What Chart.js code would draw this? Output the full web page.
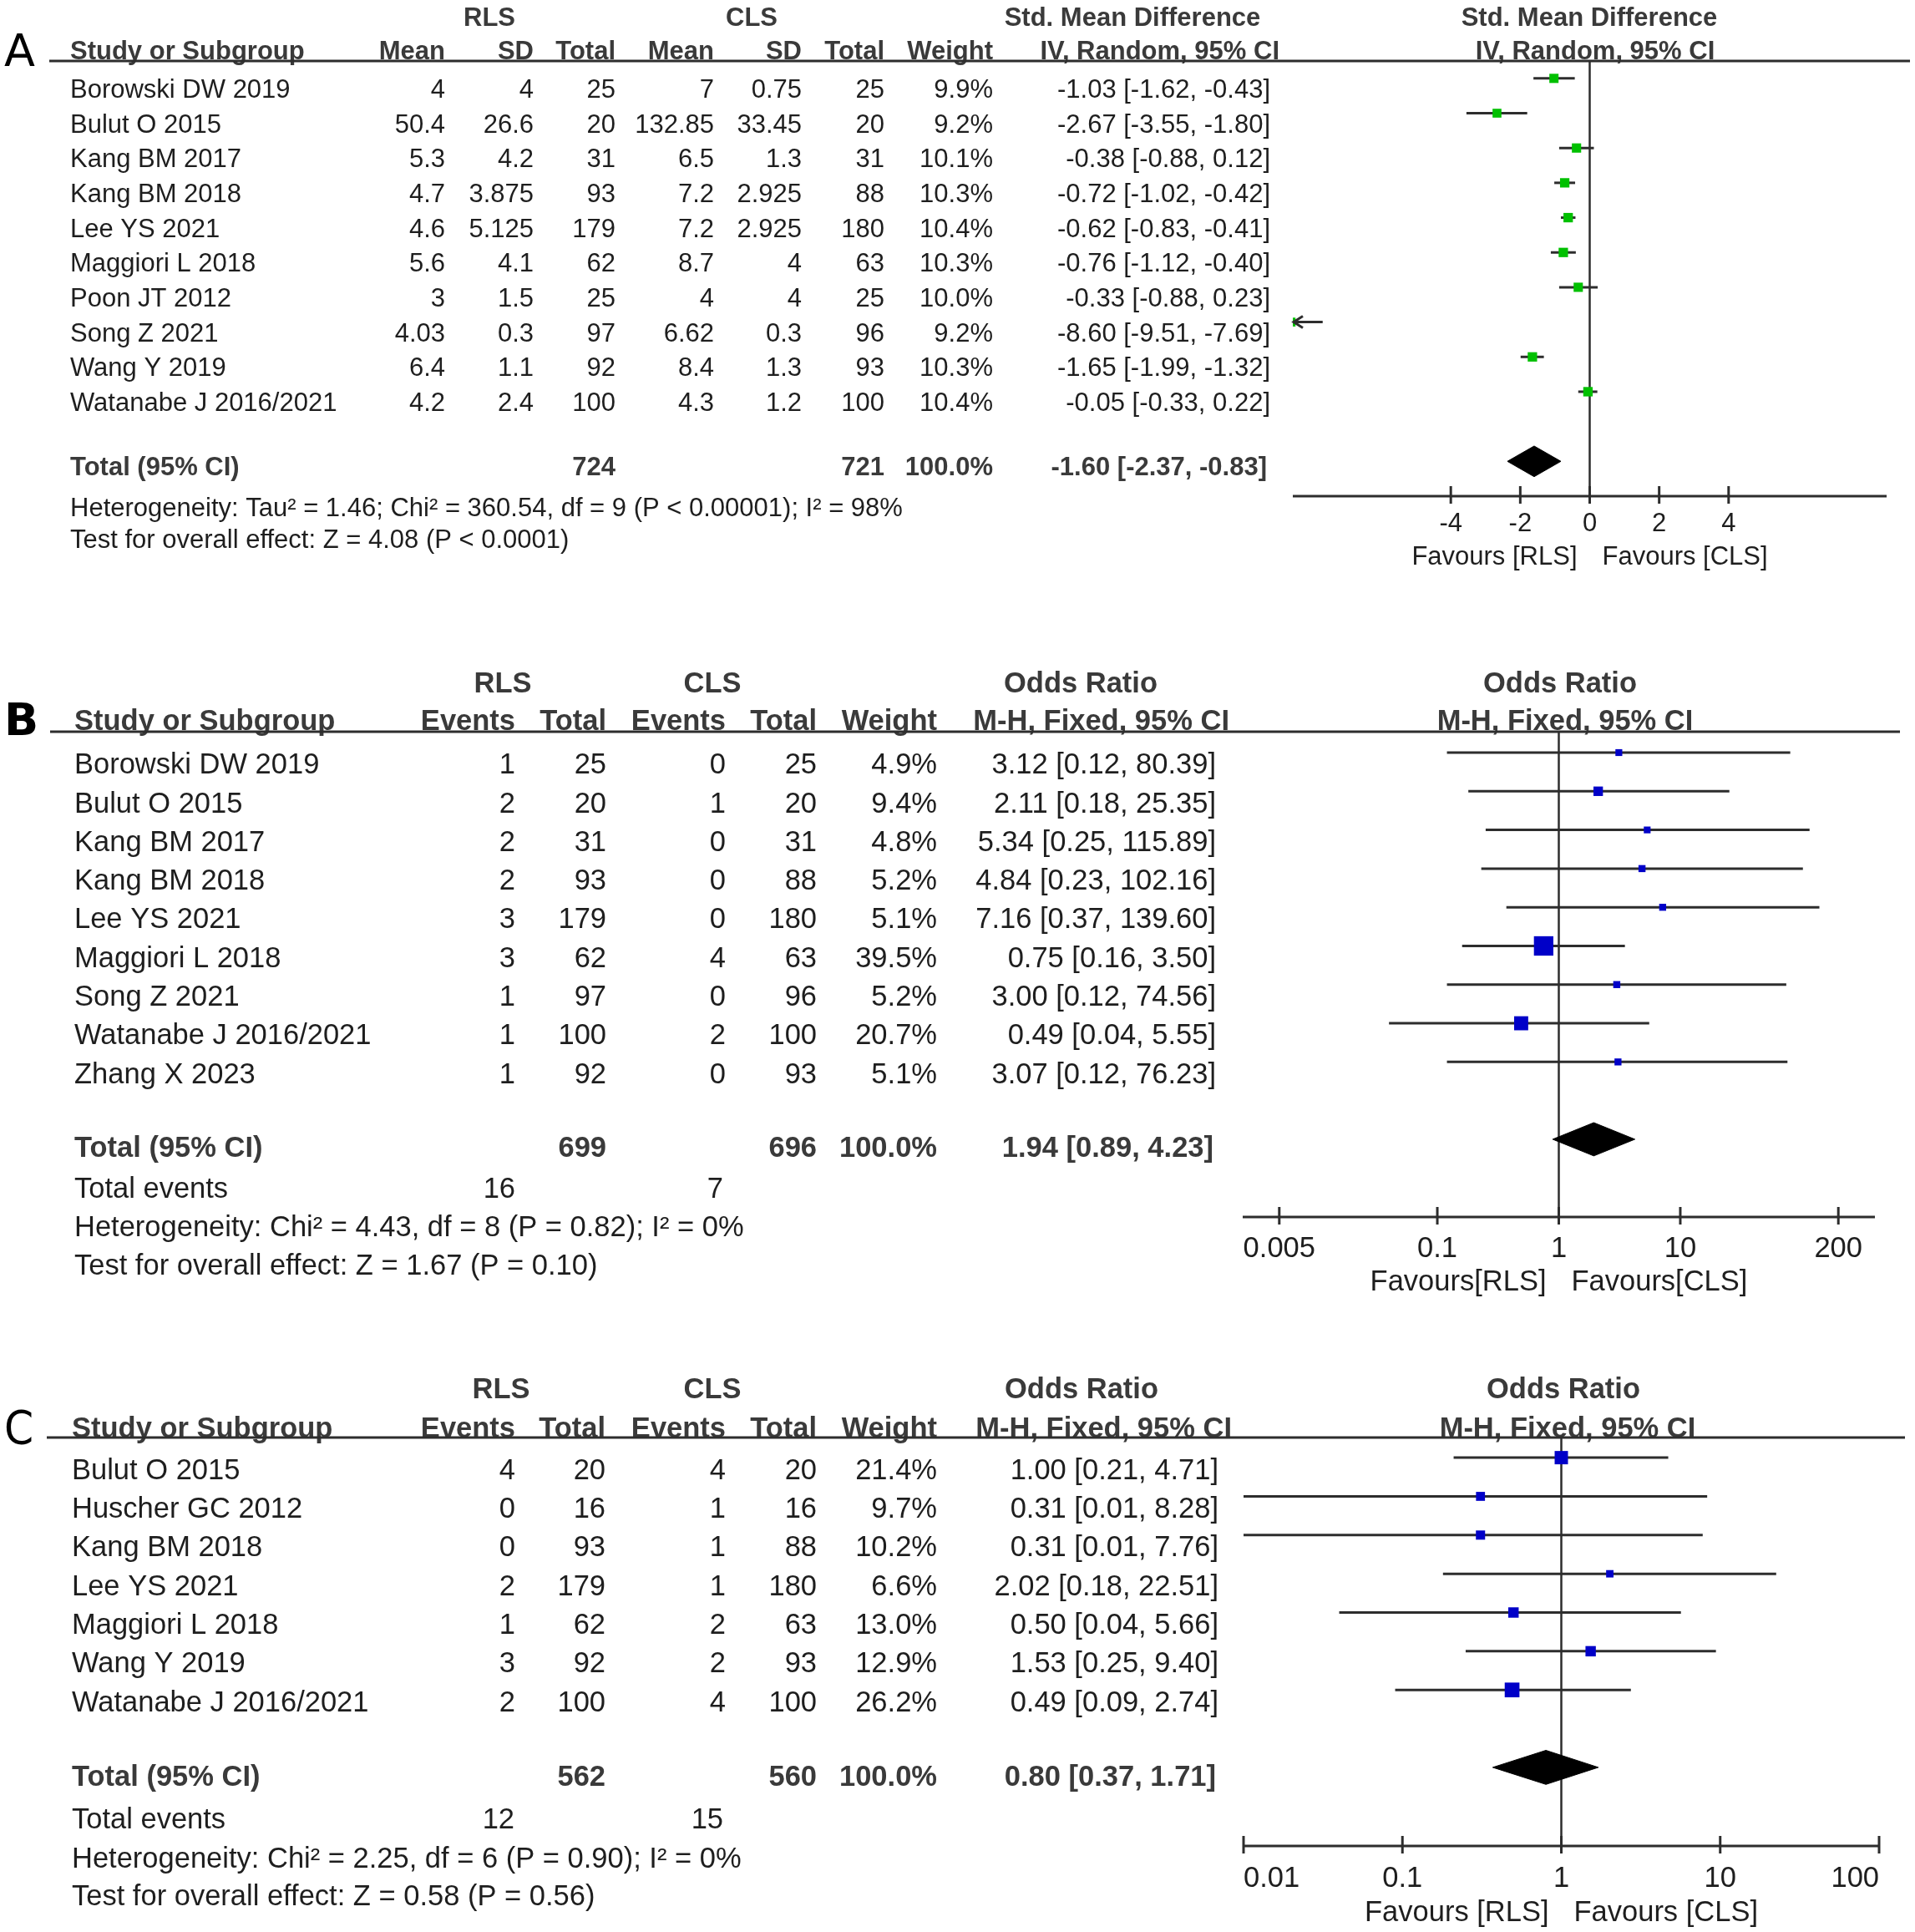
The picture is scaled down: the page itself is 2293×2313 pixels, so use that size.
<!DOCTYPE html>
<html>
<head>
<meta charset="utf-8">
<script src="https://cdn.jsdelivr.net/npm/chart.js@4.4.1/dist/chart.umd.min.js"></script>
<style>
  body { margin: 0; background: #fff; width: 2293px; height: 2313px; position: relative; overflow: hidden; }
  canvas { position: absolute; left: 0; }
</style>
</head>
<body>
<canvas id="chartA" width="2293" height="720" style="top:0px"></canvas>
<canvas id="chartB" width="2293" height="870" style="top:720px"></canvas>
<canvas id="chartC" width="2293" height="723" style="top:1590px"></canvas>
<script>
// ---------- Panel A : Std. Mean Difference ----------
const studiesA = ['Borowski DW 2019', 'Bulut O 2015', 'Kang BM 2017', 'Kang BM 2018', 'Lee YS 2021',
  'Maggiori L 2018', 'Poon JT 2012', 'Song Z 2021', 'Wang Y 2019', 'Watanabe J 2016/2021'];
const rlsMeanA = [4, 50.4, 5.3, 4.7, 4.6, 5.6, 3, 4.03, 6.4, 4.2];
const rlsSdA = [4, 26.6, 4.2, 3.875, 5.125, 4.1, 1.5, 0.3, 1.1, 2.4];
const rlsTotalA = [25, 20, 31, 93, 179, 62, 25, 97, 92, 100];
const clsMeanA = [7, 132.85, 6.5, 7.2, 7.2, 8.7, 4, 6.62, 8.4, 4.3];
const clsSdA = [0.75, 33.45, 1.3, 2.925, 2.925, 4, 4, 0.3, 1.3, 1.2];
const clsTotalA = [25, 20, 31, 88, 180, 63, 25, 96, 93, 100];
const weightA = [9.9, 9.2, 10.1, 10.3, 10.4, 10.3, 10.0, 9.2, 10.3, 10.4];
const smdA = [-1.03, -2.67, -0.38, -0.72, -0.62, -0.76, -0.33, -8.60, -1.65, -0.05];
const lowerA = [-1.62, -3.55, -0.88, -1.02, -0.83, -1.12, -0.88, -9.51, -1.99, -0.33];
const upperA = [-0.43, -1.80, 0.12, -0.42, -0.41, -0.40, 0.23, -7.69, -1.32, 0.22];
const pooledA = [-1.60, -2.37, -0.83];
const totalsA = [724, 721];
const ticksA = [-4, -2, 0, 2, 4];
const tickLabelsA = ['-4', '-2', '0', '2', '4'];

// ---------- Panel B : Odds Ratio ----------
const studiesB = ['Borowski DW 2019', 'Bulut O 2015', 'Kang BM 2017', 'Kang BM 2018', 'Lee YS 2021',
  'Maggiori L 2018', 'Song Z 2021', 'Watanabe J 2016/2021', 'Zhang X 2023'];
const rlsEventsB = [1, 2, 2, 2, 3, 3, 1, 1, 1];
const rlsTotalB = [25, 20, 31, 93, 179, 62, 97, 100, 92];
const clsEventsB = [0, 1, 0, 0, 0, 4, 0, 2, 0];
const clsTotalB = [25, 20, 31, 88, 180, 63, 96, 100, 93];
const weightB = [4.9, 9.4, 4.8, 5.2, 5.1, 39.5, 5.2, 20.7, 5.1];
const orB = [3.12, 2.11, 5.34, 4.84, 7.16, 0.75, 3.00, 0.49, 3.07];
const lowerB = [0.12, 0.18, 0.25, 0.23, 0.37, 0.16, 0.12, 0.04, 0.12];
const upperB = [80.39, 25.35, 115.89, 102.16, 139.60, 3.50, 74.56, 5.55, 76.23];
const pooledB = [1.94, 0.89, 4.23];
const totalsB = [699, 696];
const eventsB = [16, 7];
const ticksB = [0.005, 0.1, 1, 10, 200];
const tickLabelsB = ['0.005', '0.1', '1', '10', '200'];

// ---------- Panel C : Odds Ratio ----------
const studiesC = ['Bulut O 2015', 'Huscher GC 2012', 'Kang BM 2018', 'Lee YS 2021', 'Maggiori L 2018',
  'Wang Y 2019', 'Watanabe J 2016/2021'];
const rlsEventsC = [4, 0, 0, 2, 1, 3, 2];
const rlsTotalC = [20, 16, 93, 179, 62, 92, 100];
const clsEventsC = [4, 1, 1, 1, 2, 2, 4];
const clsTotalC = [20, 16, 88, 180, 63, 93, 100];
const weightC = [21.4, 9.7, 10.2, 6.6, 13.0, 12.9, 26.2];
const orC = [1.00, 0.31, 0.31, 2.02, 0.50, 1.53, 0.49];
const lowerC = [0.21, 0.01, 0.01, 0.18, 0.04, 0.25, 0.09];
const upperC = [4.71, 8.28, 7.76, 22.51, 5.66, 9.40, 2.74];
const pooledC = [0.80, 0.37, 1.71];
const totalsC = [562, 560];
const eventsC = [12, 15];
const ticksC = [0.01, 0.1, 1, 10, 100];
const tickLabelsC = ['0.01', '0.1', '1', '10', '100'];

const FONT = '"Liberation Sans", Arial, sans-serif';
const TEXT = '#1e1e1e';
const HEAD = '#3a3a3a';
const LINE = '#2d2d2d';

const pct = w => w.toFixed(1) + '%';
const ci = (e, l, u) => e.toFixed(2) + ' [' + l.toFixed(2) + ', ' + u.toFixed(2) + ']';

function forestPlugin(p) {
  return {
    id: 'forest' + p.letter,
    beforeDatasetsDraw(chart) {
      const { ctx, chartArea: a, scales: { x } } = chart;
      const x0 = x.getPixelForValue(p.nullValue);
      ctx.save();
      ctx.strokeStyle = LINE;
      ctx.lineWidth = 2.5;
      ctx.beginPath();
      ctx.moveTo(x0, a.top);
      ctx.lineTo(x0, a.bottom);
      ctx.stroke();
      ctx.restore();
    },
    afterDraw(chart) {
      const { ctx, chartArea: a, scales: { x, y } } = chart;
      const fs = p.fontSize;
      const reg = fs + 'px ' + FONT;
      const bold = 'bold ' + reg;
      const rowY = v => y.getPixelForValue(v) + p.textOffset + 0.36 * fs;
      const put = (s, px, v, align, font, color) => {
        ctx.font = font;
        ctx.textAlign = align;
        ctx.fillStyle = color;
        ctx.fillText(String(s), px, rowY(v));
      };
      ctx.save();
      ctx.textBaseline = 'alphabetic';

      // panel letter
      ctx.font = p.letterFont;
      ctx.textAlign = 'left';
      ctx.fillStyle = '#000';
      ctx.fillText(p.letter, 5, y.getPixelForValue(p.rows.head) + p.textOffset + 19);

      // headers
      p.groupHeads.forEach(g => put(g.t, g.x, p.rows.group, 'center', bold, HEAD));
      put('Study or Subgroup', p.studyX, p.rows.head, 'left', bold, HEAD);
      p.columns.forEach(c => put(c.h, c.hx || c.x, p.rows.head, 'right', bold, HEAD));
      put(p.plotHead, p.plotHeadX, p.rows.head, 'center', bold, HEAD);

      ctx.strokeStyle = LINE;
      ctx.lineWidth = 3;
      ctx.beginPath();
      ctx.moveTo(p.ruleX[0], a.top);
      ctx.lineTo(p.ruleX[1], a.top);
      ctx.stroke();

      // study rows
      p.studies.forEach((s, i) => {
        put(s, p.studyX, i, 'left', reg, TEXT);
        p.columns.forEach(c => put(c.vals[i], c.x, i, 'right', reg, TEXT));
      });

      // totals and notes
      put('Total (95% CI)', p.studyX, p.rows.total, 'left', bold, HEAD);
      p.columns.forEach(c => {
        if (c.total !== undefined) put(c.total, c.tx || c.x, p.rows.total, 'right', bold, HEAD);
      });
      if (p.events) {
        put('Total events', p.studyX, p.rows.events, 'left', reg, TEXT);
        p.events.forEach(e => put(e.t, e.x, p.rows.events, 'right', reg, TEXT));
      }
      put(p.hetText, p.studyX, p.rows.het, 'left', reg, TEXT);
      put(p.testText, p.studyX, p.rows.test, 'left', reg, TEXT);

      // x axis
      const yb = a.bottom;
      ctx.strokeStyle = LINE;
      ctx.lineWidth = 3;
      ctx.beginPath();
      ctx.moveTo(a.left, yb);
      ctx.lineTo(a.right, yb);
      ctx.stroke();
      ctx.font = reg;
      ctx.fillStyle = TEXT;
      p.ticks.forEach((t, k) => {
        const px = x.getPixelForValue(t);
        ctx.beginPath();
        ctx.moveTo(px, yb - 12);
        ctx.lineTo(px, yb + 9);
        ctx.stroke();
        // labels at the very ends of the axis are pulled inward
        ctx.textAlign = px <= a.left + 1 ? 'left' : (px >= a.right - 1 ? 'right' : 'center');
        ctx.fillText(p.tickLabels[k], px, yb + p.tickDy + 0.36 * fs);
      });
      const x0 = x.getPixelForValue(p.nullValue);
      ctx.textAlign = 'right';
      ctx.fillText(p.favours[0], x0 - 15, yb + p.favDy + 0.36 * fs);
      ctx.textAlign = 'left';
      ctx.fillText(p.favours[1], x0 + 15, yb + p.favDy + 0.36 * fs);

      // arrow heads for intervals running off the scale
      ctx.lineWidth = 3;
      p.lower.forEach((l, i) => {
        if (l < x.min) {
          const py = y.getPixelForValue(i);
          ctx.beginPath();
          ctx.moveTo(a.left + 12, py - 7);
          ctx.lineTo(a.left + 1, py);
          ctx.lineTo(a.left + 12, py + 7);
          ctx.stroke();
        }
      });
      ctx.restore();
    }
  };
}

function makeForest(canvasId, p) {
  const datasets = [];
  p.estimate.forEach((e, i) => {
    datasets.push({
      type: 'line',
      data: [{ x: p.lower[i], y: i }, { x: p.upper[i], y: i }],
      borderColor: LINE,
      borderWidth: 3,
      pointRadius: 0,
      tension: 0,
      order: 3
    });
  });
  datasets.push({
    type: 'scatter',
    data: p.estimate.map((e, i) => ({ x: e, y: i })),
    pointStyle: 'rect',
    pointRadius: p.weight.map(w => p.boxScale * Math.sqrt(w) / (2 * Math.SQRT1_2)),
    backgroundColor: p.boxColor,
    borderWidth: 0,
    order: 1
  });
  const d = p.pooled;
  const r = p.diamondRow;
  const h = p.diamondHalf;
  datasets.push({
    type: 'line',
    data: [{ x: d[1], y: r }, { x: d[0], y: r - h }, { x: d[2], y: r }, { x: d[0], y: r + h }, { x: d[1], y: r }],
    borderColor: '#000',
    backgroundColor: '#000',
    borderWidth: 1,
    fill: 'shape',
    pointRadius: 0,
    tension: 0,
    order: 2
  });

  return new Chart(document.getElementById(canvasId), {
    type: 'scatter',
    data: { datasets },
    options: {
      responsive: false,
      devicePixelRatio: 1,
      animation: false,
      events: [],
      layout: { padding: p.padding },
      plugins: { legend: { display: false }, tooltip: { enabled: false } },
      scales: {
        x: { type: p.logScale ? 'logarithmic' : 'linear', min: p.xRange[0], max: p.xRange[1], display: false },
        y: { type: 'linear', min: p.yRange[0], max: p.yRange[1], reverse: true, display: false }
      }
    },
    plugins: [forestPlugin(p)]
  });
}

makeForest('chartA', {
  letter: 'A', letterFont: '54px "DejaVu Sans", sans-serif',
  studies: studiesA, estimate: smdA, lower: lowerA, upper: upperA, weight: weightA, pooled: pooledA,
  columns: [
    { h: 'Mean', x: 533, vals: rlsMeanA },
    { h: 'SD', x: 639, vals: rlsSdA },
    { h: 'Total', x: 737, vals: rlsTotalA, total: totalsA[0] },
    { h: 'Mean', x: 855, vals: clsMeanA },
    { h: 'SD', x: 960, vals: clsSdA },
    { h: 'Total', x: 1059, vals: clsTotalA, total: totalsA[1] },
    { h: 'Weight', x: 1189, vals: weightA.map(pct), total: '100.0%' },
    { h: 'IV, Random, 95% CI', hx: 1532, x: 1521, tx: 1517,
      vals: smdA.map((e, i) => ci(e, lowerA[i], upperA[i])), total: ci(pooledA[0], pooledA[1], pooledA[2]) }
  ],
  groupHeads: [{ t: 'RLS', x: 586 }, { t: 'CLS', x: 900 }, { t: 'Std. Mean Difference', x: 1356 },
    { t: 'Std. Mean Difference', x: 1903 }],
  plotHead: 'IV, Random, 95% CI', plotHeadX: 1910,
  hetText: 'Heterogeneity: Tau\u00b2 = 1.46; Chi\u00b2 = 360.54, df = 9 (P < 0.00001); I\u00b2 = 98%',
  testText: 'Test for overall effect: Z = 4.08 (P < 0.0001)',
  favours: ['Favours [RLS]', 'Favours [CLS]'],
  ticks: ticksA, tickLabels: tickLabelsA, nullValue: 0,
  logScale: false, xRange: [-8.55, 8.55], yRange: [-0.5, 12.0],
  padding: { left: 1548, right: 34, top: 73, bottom: 126 },
  rows: { group: -2.06, head: -1.1, total: 10.85, het: 12.02, test: 12.94 },
  studyX: 84, ruleX: [59, 2287], fontSize: 31, textOffset: 12,
  tickDy: 31, favDy: 71,
  boxColor: '#00c000', boxScale: 3.5, diamondRow: 11.0, diamondHalf: 0.44
});

makeForest('chartB', {
  letter: 'B', letterFont: 'bold 54px "DejaVu Sans", sans-serif',
  studies: studiesB, estimate: orB, lower: lowerB, upper: upperB, weight: weightB, pooled: pooledB,
  columns: [
    { h: 'Events', x: 617, vals: rlsEventsB },
    { h: 'Total', x: 726, vals: rlsTotalB, total: totalsB[0] },
    { h: 'Events', x: 869, vals: clsEventsB },
    { h: 'Total', x: 978, vals: clsTotalB, total: totalsB[1] },
    { h: 'Weight', x: 1122, vals: weightB.map(pct), total: '100.0%' },
    { h: 'M-H, Fixed, 95% CI', hx: 1472, x: 1456, tx: 1453,
      vals: orB.map((e, i) => ci(e, lowerB[i], upperB[i])), total: ci(pooledB[0], pooledB[1], pooledB[2]) }
  ],
  events: [{ t: eventsB[0], x: 617 }, { t: eventsB[1], x: 866 }],
  groupHeads: [{ t: 'RLS', x: 602 }, { t: 'CLS', x: 853 }, { t: 'Odds Ratio', x: 1294 },
    { t: 'Odds Ratio', x: 1868 }],
  plotHead: 'M-H, Fixed, 95% CI', plotHeadX: 1874,
  hetText: 'Heterogeneity: Chi\u00b2 = 4.43, df = 8 (P = 0.82); I\u00b2 = 0%',
  testText: 'Test for overall effect: Z = 1.67 (P = 0.10)',
  favours: ['Favours[RLS]', 'Favours[CLS]'],
  ticks: ticksB, tickLabels: tickLabelsB, nullValue: 1,
  logScale: true, xRange: [0.0025, 400], yRange: [-0.54, 12.01],
  padding: { left: 1488, right: 48, top: 156, bottom: 133 },
  rows: { group: -2.10, head: -1.13, total: 9.92, events: 10.97, het: 11.96, test: 12.95 },
  studyX: 89, ruleX: [60, 2275], fontSize: 34.5, textOffset: 12.8,
  tickDy: 36, favDy: 76,
  boxColor: '#0000c8', boxScale: 3.7, diamondRow: 10.0, diamondHalf: 0.43
});

makeForest('chartC', {
  letter: 'C', letterFont: '56px "DejaVu Sans Condensed", "DejaVu Sans", sans-serif',
  studies: studiesC, estimate: orC, lower: lowerC, upper: upperC, weight: weightC, pooled: pooledC,
  columns: [
    { h: 'Events', x: 617, vals: rlsEventsC },
    { h: 'Total', x: 725, vals: rlsTotalC, total: totalsC[0] },
    { h: 'Events', x: 869, vals: clsEventsC },
    { h: 'Total', x: 978, vals: clsTotalC, total: totalsC[1] },
    { h: 'Weight', x: 1122, vals: weightC.map(pct), total: '100.0%' },
    { h: 'M-H, Fixed, 95% CI', hx: 1475, x: 1459, tx: 1456,
      vals: orC.map((e, i) => ci(e, lowerC[i], upperC[i])), total: ci(pooledC[0], pooledC[1], pooledC[2]) }
  ],
  events: [{ t: eventsC[0], x: 616 }, { t: eventsC[1], x: 866 }],
  groupHeads: [{ t: 'RLS', x: 600 }, { t: 'CLS', x: 853 }, { t: 'Odds Ratio', x: 1295 },
    { t: 'Odds Ratio', x: 1872 }],
  plotHead: 'M-H, Fixed, 95% CI', plotHeadX: 1877,
  hetText: 'Heterogeneity: Chi\u00b2 = 2.25, df = 6 (P = 0.90); I\u00b2 = 0%',
  testText: 'Test for overall effect: Z = 0.58 (P = 0.56)',
  favours: ['Favours [RLS]', 'Favours [CLS]'],
  ticks: ticksC, tickLabels: tickLabelsC, nullValue: 1,
  logScale: true, xRange: [0.01, 100], yRange: [-0.52, 10.03],
  padding: { left: 1489, right: 43, top: 131, bottom: 103 },
  rows: { group: -2.08, head: -1.06, total: 7.93, events: 9.03, het: 10.05, test: 11.02 },
  studyX: 86, ruleX: [56, 2281], fontSize: 34.5, textOffset: 13,
  tickDy: 37, favDy: 78,
  boxColor: '#0000c8', boxScale: 3.45, diamondRow: 8.0, diamondHalf: 0.44
});
</script>
</body>
</html>
